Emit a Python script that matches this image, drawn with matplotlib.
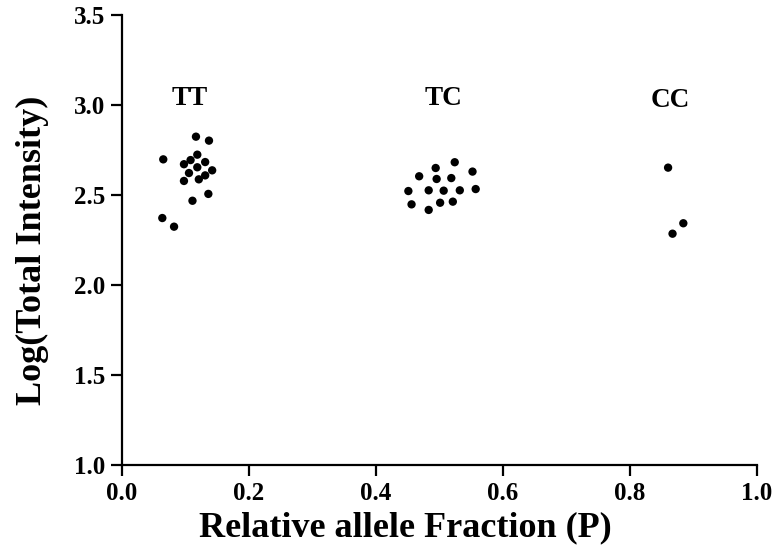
import matplotlib
matplotlib.use("Agg")
import matplotlib.pyplot as plt

# Genotype clusters: relative allele fraction vs log total intensity
tt_x = [0.1165, 0.137, 0.065, 0.1186, 0.108, 0.0976, 0.131, 0.1186, 0.142,
        0.1055, 0.131, 0.121, 0.0976, 0.136, 0.111, 0.0635, 0.082]
tt_y = [2.824, 2.802, 2.698, 2.724, 2.694, 2.671, 2.683, 2.654, 2.637,
        2.622, 2.609, 2.587, 2.578, 2.506, 2.468, 2.372, 2.324]

tc_x = [0.524, 0.494, 0.552, 0.468, 0.4955, 0.5186, 0.451, 0.483, 0.5066,
        0.532, 0.557, 0.456, 0.501, 0.521, 0.483]
tc_y = [2.682, 2.650, 2.630, 2.604, 2.589, 2.594, 2.522, 2.526, 2.524,
        2.526, 2.533, 2.448, 2.457, 2.463, 2.417]

cc_x = [0.860, 0.884, 0.867]
cc_y = [2.652, 2.343, 2.285]

group_names = ["TT", "TC", "CC"]
group_label_x = [0.107, 0.507, 0.864]
group_label_y = [3.038, 3.038, 3.025]

x_ticks = [0.0, 0.2, 0.4, 0.6, 0.8, 1.0]
y_ticks = [1.0, 1.5, 2.0, 2.5, 3.0, 3.5]

plt.rcParams["font.family"] = ["Liberation Serif", "DejaVu Serif"]
plt.rcParams["font.weight"] = "bold"

fig = plt.figure(figsize=(7.76, 5.47), dpi=100)
ax = fig.add_axes([0.1572, 0.1499, 0.8183, 0.8227])

for xs, ys in [(tt_x, tt_y), (tc_x, tc_y), (cc_x, cc_y)]:
    ax.scatter(xs, ys, s=36, color="black", edgecolors="none", zorder=3)

for name, lx, ly in zip(group_names, group_label_x, group_label_y):
    ax.text(lx, ly, name, ha="center", va="center", fontsize=19.5,
            fontweight="bold")

ax.set_xlim(0.0, 1.0)
ax.set_ylim(1.0, 3.5)
ax.set_xticks(x_ticks)
ax.set_yticks(y_ticks)
ax.set_xticklabels([f"{v:.1f}" for v in x_ticks], fontsize=18, fontweight="bold")
ax.set_yticklabels([f"{v:.1f}" for v in y_ticks], fontsize=18, fontweight="bold")

for side in ["top", "right"]:
    ax.spines[side].set_visible(False)
for side in ["left", "bottom"]:
    ax.spines[side].set_linewidth(1.6)
ax.tick_params(axis="both", direction="out", length=8, width=1.6, pad=4)

ax.set_xlabel("Relative allele Fraction (P)", fontsize=26, fontweight="bold")
ax.set_ylabel("Log(Total Intensity)", fontsize=26, fontweight="bold")
ax.xaxis.set_label_coords(0.446, -0.103)
ax.yaxis.set_label_coords(-0.115, 0.478)

fig.savefig("out.png", dpi=100, facecolor="white")
